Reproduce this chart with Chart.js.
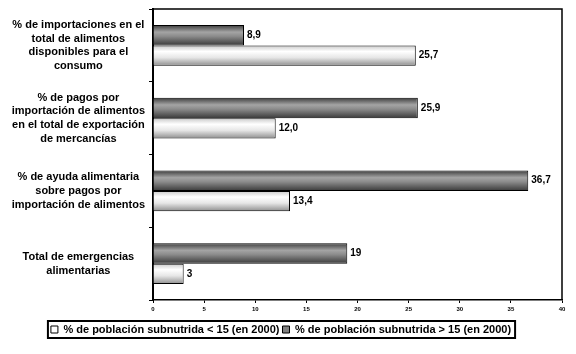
<!DOCTYPE html>
<html>
<head>
<meta charset="utf-8">
<script src="https://cdn.jsdelivr.net/npm/chart.js@4/dist/chart.umd.min.js"></script>
<style>
  html, body { margin: 0; padding: 0; background: #fff; }
  #wrap { width: 576px; height: 354px; }
</style>
</head>
<body>
<div id="wrap"><canvas id="chart" width="576" height="354"></canvas></div>
<script>
const categories = [
  ["% de importaciones en el", "total de alimentos", "disponibles para el", "consumo"],
  ["% de pagos por", "importación de alimentos", "en el total de exportación", "de mercancías"],
  ["% de ayuda alimentaria", "sobre pagos por", "importación de alimentos"],
  ["Total de emergencias", "alimentarias"]
];

const darkName = "% de población subnutrida > 15 (en 2000)";
const lightName = "% de población subnutrida < 15 (en 2000)";

const darkValues = [8.9, 25.9, 36.7, 19];
const lightValues = [25.7, 12.0, 13.4, 3];

const darkLabels = ["8,9", "25,9", "36,7", "19"];
const lightLabels = ["25,7", "12,0", "13,4", "3"];

const xTicks = [0, 5, 10, 15, 20, 25, 30, 35, 40];

const catPct = 0.56;
const fontFamily = "'Liberation Sans', Arial, sans-serif";

const darkStops = [[0, "#3c3c3c"], [0.35, "#a4a4a4"], [0.55, "#8c8c8c"], [1, "#3a3a3a"]];
const lightStops = [[0, "#c8c8c8"], [0.3, "#ffffff"], [0.6, "#e6e6e6"], [1, "#8e8e8e"]];

function barFill(ctx, stops, slot)
{
  const chart = ctx.chart;
  const yScale = chart.scales.y;
  if (!yScale || !chart.chartArea || ctx.dataIndex === undefined) return stops[1][1];
  const center = yScale.getPixelForValue(ctx.dataIndex);
  const catH = (yScale.bottom - yScale.top) / categories.length;
  const thick = catH * catPct / 2;
  const top = slot === 0 ? center - thick : center;
  const g = chart.ctx.createLinearGradient(0, top, 0, top + thick);
  stops.forEach(s => g.addColorStop(s[0], s[1]));
  return g;
}

const frameAndLabels = {
  id: "frameAndLabels",
  afterDatasetsDraw(chart)
  {
    const c = chart.ctx;
    const area = chart.chartArea;
    c.save();
    c.strokeStyle = "#000";
    c.lineWidth = 1.5;
    c.beginPath();
    c.moveTo(area.left, area.top);
    c.lineTo(area.right, area.top);
    c.lineTo(area.right, area.bottom);
    c.stroke();

    c.fillStyle = "#000";
    c.font = "bold 10px " + fontFamily;
    c.textBaseline = "middle";
    c.textAlign = "left";
    chart.data.datasets.forEach((ds, i) =>
    {
      const meta = chart.getDatasetMeta(i);
      meta.data.forEach((bar, j) =>
      {
        c.fillText(ds.valueLabels[j], bar.x + 3, bar.y);
      });
    });
    c.restore();
  },
  afterDraw(chart)
  {
    const boxes = chart.legend.legendHitBoxes;
    if (!boxes || !boxes.length) return;
    const c = chart.ctx;
    const first = boxes[0];
    const last = boxes[boxes.length - 1];
    const left = first.left - 3;
    const right = last.left + last.width + 4;
    const top = first.top - 3;
    const bottom = first.top + first.height + 3;
    c.save();
    c.strokeStyle = "#000";
    c.lineWidth = 2;
    c.strokeRect(left, top, right - left, bottom - top);
    c.restore();
  }
};

new Chart(document.getElementById("chart"), {
  type: "bar",
  data: {
    labels: categories,
    datasets: [
      {
        label: darkName,
        data: darkValues,
        valueLabels: darkLabels,
        legendColor: "#808080",
        backgroundColor: ctx => barFill(ctx, darkStops, 0),
        borderColor: "#000",
        borderWidth: 1,
        barPercentage: 1,
        categoryPercentage: catPct
      },
      {
        label: lightName,
        data: lightValues,
        valueLabels: lightLabels,
        legendColor: "#ffffff",
        backgroundColor: ctx => barFill(ctx, lightStops, 1),
        borderColor: "#000",
        borderWidth: 1,
        barPercentage: 1,
        categoryPercentage: catPct
      }
    ]
  },
  options: {
    indexAxis: "y",
    responsive: false,
    animation: false,
    layout: { padding: { top: 9, right: 14, left: 0, bottom: 9 } },
    scales: {
      x: {
        min: 0,
        max: 40,
        afterBuildTicks: scale => { scale.ticks = xTicks.map(v => ({ value: v })); },
        afterFit: scale => { scale.height = 21; },
        grid: { drawOnChartArea: false, tickLength: 3, color: "#000" },
        border: { color: "#000", width: 1.5 },
        ticks: {
          color: "#000",
          padding: 3,
          maxRotation: 0,
          font: { family: fontFamily, size: 6, weight: "bold" }
        }
      },
      y: {
        afterFit: scale => { scale.width = 153; scale.paddingTop = 0; scale.paddingBottom = 0; },
        grid: { drawOnChartArea: false, offset: true, tickLength: 4, color: "#000" },
        border: { color: "#000", width: 2 },
        ticks: {
          color: "#000",
          crossAlign: "center",
          padding: 4,
          font: { family: fontFamily, size: 11, weight: "bold", lineHeight: 1.25 }
        }
      }
    },
    plugins: {
      tooltip: { enabled: false },
      legend: {
        position: "bottom",
        reverse: true,
        labels: {
          color: "#000",
          boxWidth: 7,
          boxHeight: 7,
          padding: 3,
          font: { family: fontFamily, size: 11, weight: "bold" },
          generateLabels: chart => chart.data.datasets.map((ds, i) => ({
            text: ds.label,
            fillStyle: ds.legendColor,
            strokeStyle: "#000",
            lineWidth: 1,
            fontColor: "#000",
            datasetIndex: i
          }))
        }
      }
    }
  },
  plugins: [frameAndLabels]
});
</script>
</body>
</html>
